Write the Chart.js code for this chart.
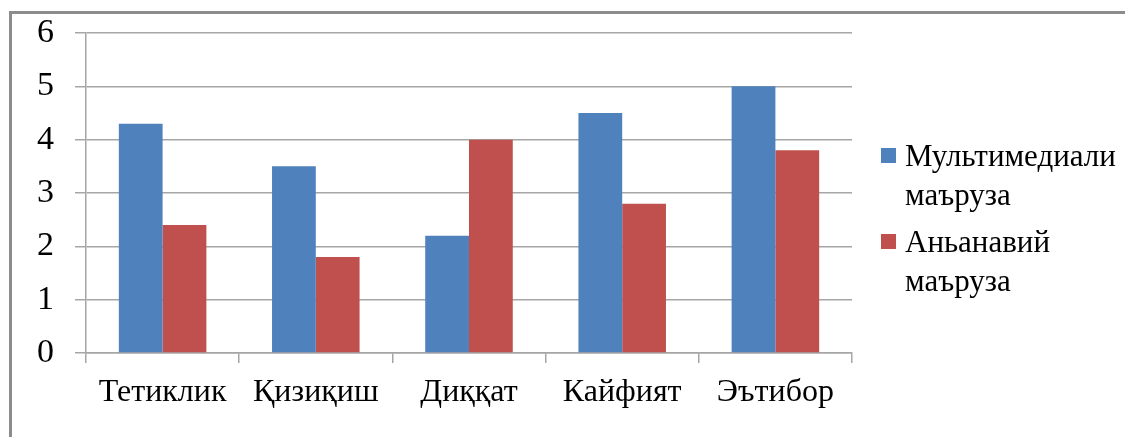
<!DOCTYPE html>
<html>
<head>
<meta charset="utf-8">
<script src="https://cdn.jsdelivr.net/npm/chart.js@4"></script>
<style>
  html, body { margin: 0; padding: 0; background: #fff; }
  #wrap { position: relative; width: 1125px; height: 437px; overflow: hidden; }
  #frame { position: absolute; left: 9px; top: 11px; width: 1200px; height: 500px; border-left: 3px solid #8c8c8c; border-top: 3px solid #8c8c8c; }
  #chart { position: absolute; left: 0; top: 0; }
</style>
</head>
<body>
<div id="wrap">
  <div id="frame"></div>
  <canvas id="chart" width="1125" height="437"></canvas>
</div>
<script>
const categories = ["Тетиклик", "Қизиқиш", "Диққат", "Кайфият", "Эътибор"];
const multimediaValues = [4.3, 3.5, 2.2, 4.5, 5.0];
const traditionalValues = [2.4, 1.8, 4.0, 2.8, 3.8];
const seriesLabels = [["Мультимедиали", "маъруза"], ["Аньанавий", "маъруза"]];
const seriesColors = ["#4F81BD", "#C0504D"];

const serif = "'Liberation Serif', 'Times New Roman', serif";

// legend drawn by hand so that each label can wrap on two lines
const sideLegend = {
  id: "sideLegend",
  afterDraw(chart) {
    const ctx = chart.ctx;
    ctx.save();
    ctx.font = "31px " + serif;
    ctx.textBaseline = "middle";
    const tops = [156, 242];
    chart.data.datasets.forEach(function (ds, i) {
      const y = tops[i];
      ctx.fillStyle = ds.backgroundColor;
      ctx.fillRect(881, y - 8, 15, 15);
      ctx.fillStyle = "#000";
      ds.legendLines.forEach(function (line, j) {
        ctx.fillText(line, 905, y + 2 + j * 39);
      });
    });
    ctx.restore();
  }
};

new Chart(document.getElementById("chart"), {
  type: "bar",
  data: {
    labels: categories,
    datasets: [
      { label: seriesLabels[0].join(" "), legendLines: seriesLabels[0], data: multimediaValues, backgroundColor: seriesColors[0] },
      { label: seriesLabels[1].join(" "), legendLines: seriesLabels[1], data: traditionalValues, backgroundColor: seriesColors[1] }
    ]
  },
  options: {
    responsive: false,
    animation: false,
    layout: { padding: { left: 0, top: 33, right: 273, bottom: 0 } },
    datasets: { bar: { categoryPercentage: 2 / 3.5, barPercentage: 1 } },
    plugins: { legend: { display: false }, tooltip: { enabled: false } },
    scales: {
      y: {
        min: 0,
        max: 6,
        ticks: { stepSize: 1, color: "#000", font: { family: serif, size: 34 }, padding: 21 },
        grid: { color: "#a6a6a6", lineWidth: 1.5, tickLength: 11 },
        border: { color: "#a6a6a6", width: 1.5 },
        afterFit: function (s) { s.width = 86; s.paddingTop = 0; s.paddingBottom = 0; }
      },
      x: {
        ticks: { color: "#000", font: { family: serif, size: 32 }, padding: 10 },
        grid: { drawOnChartArea: false, color: "#a6a6a6", lineWidth: 1.5, tickLength: 10 },
        border: { color: "#a6a6a6", width: 1.5 },
        afterFit: function (s) { s.height = 84; s.paddingLeft = 0; s.paddingRight = 0; }
      }
    }
  },
  plugins: [sideLegend]
});
</script>
</body>
</html>
